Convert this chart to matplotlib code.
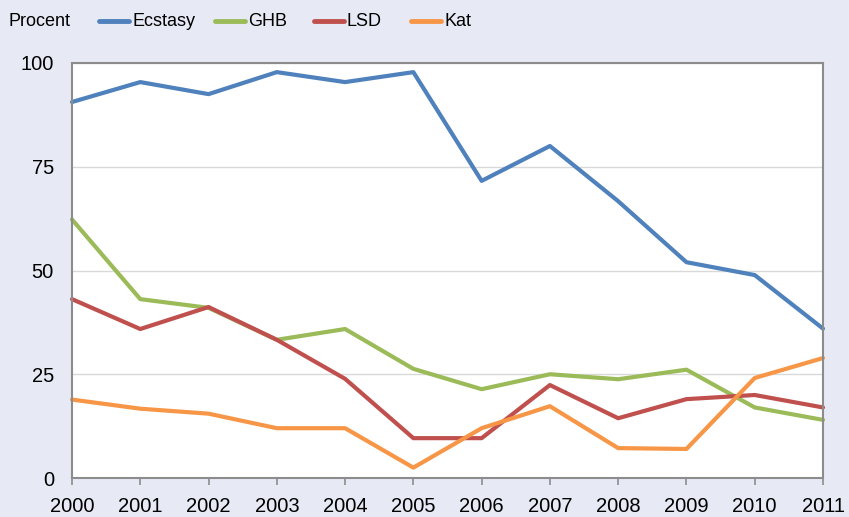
import matplotlib
matplotlib.use("Agg")
import matplotlib.pyplot as plt
from matplotlib.lines import Line2D

plt.rcParams['font.family'] = ['Liberation Sans', 'DejaVu Sans']

years = list(range(2000, 2012))
year_labels = [str(y) for y in years]
ecstasy = [90.6, 95.4, 92.5, 97.8, 95.4, 97.8, 71.6, 80.0, 66.7, 52.0, 48.9, 36.0]
ghb = [62.3, 43.1, 41.0, 33.3, 35.9, 26.3, 21.4, 25.0, 23.8, 26.1, 17.0, 14.0]
lsd = [43.1, 35.9, 41.2, 33.3, 23.9, 9.6, 9.6, 22.4, 14.4, 19.0, 20.0, 17.0]
kat = [18.9, 16.7, 15.5, 12.0, 12.0, 2.5, 12.0, 17.3, 7.2, 7.0, 24.1, 28.9]
series_names = ["Ecstasy", "GHB", "LSD", "Kat"]
colors = ["#4F81BD", "#9BBB59", "#C0504D", "#F79646"]
bg = "#E7EAF5"
W, H = 849, 517

fig = plt.figure(figsize=(8.49, 5.17), dpi=100, facecolor=bg)
ax = fig.add_axes([72/W, 1-478/H, (823-72)/W, (478-63)/H])
ax.set_facecolor("white")

for vals, c, n in zip([ecstasy, ghb, lsd, kat], colors, series_names):
    ax.plot(years, vals, color=c, lw=3.0, solid_joinstyle='round',
            solid_capstyle='round', label=n, clip_on=False)

ax.set_xlim(2000, 2011)
ax.set_ylim(0, 100)
ax.set_yticks([0, 25, 50, 75, 100])
ax.set_xticks(years)
ax.set_xticklabels(year_labels)
ax.grid(axis='y', color='#D9D9D9', lw=1.0)
ax.set_axisbelow(True)
for s in ax.spines.values():
    s.set_color('#8C8C8C')
    s.set_linewidth(1.5)
ax.tick_params(axis='x', length=5, width=1.2, color='#8C8C8C', labelsize=14.5, pad=9)
ax.tick_params(axis='y', length=0, labelsize=14.5, pad=13)

# header: unit label and legend
ly = 1 - 21/H
fig.text(8/W, ly, "Procent", fontsize=13, va='center', ha='left')
legend_x = [97, 213, 312, 409]
for x0, c, n in zip(legend_x, colors, series_names):
    fig.add_artist(Line2D([(x0 + 2)/W, (x0 + 32)/W], [ly, ly], color=c, lw=3.5,
                          solid_capstyle='round', transform=fig.transFigure))
    fig.text((x0 + 35)/W, ly, n, fontsize=13, va='center', ha='left')

fig.savefig("out.png", dpi=100, facecolor=bg)
